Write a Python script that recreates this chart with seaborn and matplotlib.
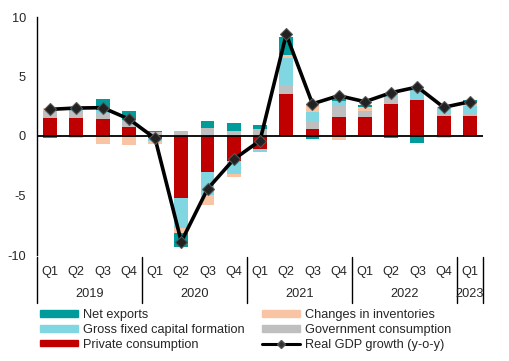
import numpy as np
import pandas as pd
import matplotlib
matplotlib.use('Agg')
import matplotlib.pyplot as plt
from matplotlib.patches import Patch
from matplotlib.lines import Line2D
import seaborn as sns

# data (percentage points, y-o-y)
quarters = ["Q1", "Q2", "Q3", "Q4"] * 4 + ["Q1"]
years = ["2019", "2020", "2021", "2022", "2023"]
year_sizes = [4, 4, 4, 4, 1]

private_cons = [1.5, 1.5, 1.43, 0.76, -0.2, -5.18, -3.0, -2.07, -1.12, 3.53, 0.62, 1.6, 1.6, 2.69, 3.03, 1.68, 1.68]
gov_cons = [0.53, 0.53, 0.53, 0.48, 0.36, 0.42, 0.7, 0.42, 0.59, 0.76, 0.62, 0.92, 0.5, 0.48, 0.0, 0.17, 0.14]
gfcf = [0.11, 0.17, 0.22, 0.14, -0.2, -2.52, -1.96, -1.12, -0.22, 2.3, 0.78, 0.45, 0.0, 0.2, 0.84, 0.62, 0.7]
inventories = [0.2, -0.14, -0.67, -0.76, -0.25, -0.45, -0.81, -0.25, 0.0, 0.22, 0.67, -0.31, 0.34, 0.14, 0.28, -0.14, 0.22]
net_exports = [-0.14, 0.0, 0.92, 0.73, 0.1, -1.15, 0.56, 0.67, 0.34, 1.54, -0.22, 0.14, 0.17, -0.14, -0.59, 0.0, 0.25]
gdp_growth = [2.24, 2.35, 2.38, 1.43, -0.2, -8.88, -4.45, -1.96, -0.39, 8.54, 2.7, 3.39, 2.88, 3.64, 4.12, 2.41, 2.88]

components = [
    ("Private consumption", private_cons, "#C00000"),
    ("Government consumption", gov_cons, "#BFBFBF"),
    ("Gross fixed capital formation", gfcf, "#80D7E2"),
    ("Changes in inventories", inventories, "#F8C4A4"),
    ("Net exports", net_exports, "#009B9B"),
]

sns.set_theme(style="white")
plt.rcParams['font.family'] = ['Liberation Sans', 'DejaVu Sans']
fs = 9.2

W, H = 509, 361
fig = plt.figure(figsize=(W / 100, H / 100), dpi=100)
ax = fig.add_axes([37 / W, (H - 255) / H, (483 - 37) / W, (255 - 17) / H])

x = np.arange(len(quarters))
pos_base = np.zeros(len(x))
neg_base = np.zeros(len(x))
for name, vals, col in components:
    v = np.array(vals)
    base = np.where(v >= 0, pos_base, neg_base)
    ax.bar(x, v, bottom=base, width=0.53, color=col, linewidth=0, zorder=2)
    pos_base += np.where(v >= 0, v, 0)
    neg_base += np.where(v < 0, v, 0)

df = pd.DataFrame({"x": x, "gdp": gdp_growth})
sns.lineplot(data=df, x="x", y="gdp", ax=ax, color="black", linewidth=2.6,
             marker="D", markersize=6.5, markerfacecolor="#222222",
             markeredgecolor="#555555", markeredgewidth=0.8, zorder=4)

ax.axhline(0, color="black", linewidth=1.3, zorder=3)
ax.set_xlim(-0.5, len(x) - 0.5)
ax.set_ylim(-10, 10)
ax.set_yticks([-10, -5, 0, 5, 10])
ax.set_yticklabels(["-10", "-5", "0", "5", "10"], fontsize=fs)
ax.tick_params(axis="y", length=0, pad=8)
ax.set_xticks([])
ax.set_xlabel("")
ax.set_ylabel("")
for s in ["top", "right", "bottom"]:
    ax.spines[s].set_visible(False)
ax.spines["left"].set_color("black")
ax.spines["left"].set_linewidth(1.0)

# category axis drawn below the plot
trans = ax.get_xaxis_transform()
for i, q in enumerate(quarters):
    ax.text(i, -0.071, q, transform=trans, ha="center", va="center", fontsize=fs)
start = 0
edges = [-0.5]
for yr, n in zip(years, year_sizes):
    ax.text(start + (n - 1) / 2, -0.164, yr, transform=trans, ha="center", va="center", fontsize=fs)
    start += n
    edges.append(start - 0.5)
for e in edges:
    ax.plot([e, e], [-0.008, -0.202], transform=trans, color="black", linewidth=1.0, clip_on=False)

handles = [
    Patch(color="#009B9B", label="Net exports"),
    Patch(color="#80D7E2", label="Gross fixed capital formation"),
    Patch(color="#C00000", label="Private consumption"),
    Patch(color="#F8C4A4", label="Changes in inventories"),
    Patch(color="#BFBFBF", label="Government consumption"),
    Line2D([], [], color="black", linewidth=2.2, marker="D", markersize=4,
           markerfacecolor="#333333", markeredgecolor="#555555", label="Real GDP growth (y-o-y)"),
]
fig.legend(handles=handles, ncol=2, loc="upper left", bbox_to_anchor=(31 / W, 1 - 300 / H),
           frameon=False, fontsize=fs, handlelength=3.0, handleheight=0.45,
           handletextpad=0.4, labelspacing=0.22, columnspacing=1.3, borderpad=0.2)

fig.savefig("out.png", dpi=100)
